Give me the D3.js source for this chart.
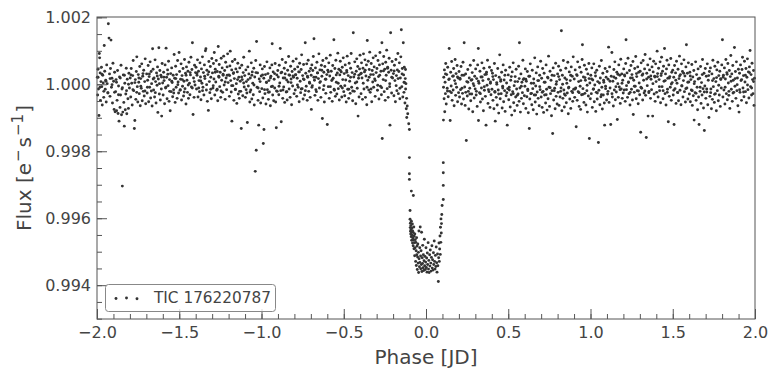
<!DOCTYPE html>
<html>
<head>
<meta charset="utf-8">
<script src="https://cdn.jsdelivr.net/npm/d3@7"></script>
<style>
  body { margin: 0; background: #fff; }
  text { font-family: 'DejaVu Sans', sans-serif; }
</style>
</head>
<body>
<div id="chart"></div>
<script>
// folded light curve, [phase (days), normalised flux]
const preTransit = [
  [-1.998,1.00021],[-1.996,0.99968],[-1.994,1.00045],[-1.991,0.99986],[-1.988,0.99907],[-1.986,1.00092],[-1.984,1.00079],[-1.981,1.00034],[-1.979,0.99952],[-1.976,1.00008],[-1.973,1.00051],[-1.971,0.99993],[-1.968,0.99938],[-1.965,1.00027],[-1.962,1.00004],[-1.959,0.99961],[-1.956,1.00116],[-1.953,1.00039],[-1.950,0.99985],[-1.947,1.00012],[-1.944,0.99947],[-1.941,1.00058],[-1.938,1.00002],[-1.934,0.99975],[-1.931,1.00181],[-1.927,1.00138],[-1.924,1.00031],[-1.921,0.99964],[-1.918,1.00047],[-1.915,1.00132],[-1.912,0.99991],[-1.909,1.00018],[-1.906,0.99944],[-1.903,1.00063],
  [-1.899,1.00009],[-1.896,0.99925],[-1.893,1.00036],[-1.890,0.99918],[-1.887,0.99978],[-1.884,1.00014],[-1.881,0.99921],[-1.878,0.99952],[-1.875,1.00041],[-1.872,0.99913],[-1.869,0.99995],[-1.866,0.99890],[-1.863,1.00022],[-1.860,0.99931],[-1.857,0.99968],[-1.854,1.00057],[-1.851,0.99909],[-1.848,0.99986],[-1.846,0.99696],[-1.843,0.99917],[-1.840,1.00028],[-1.837,0.99946],[-1.834,0.99875],[-1.831,1.00003],[-1.828,0.99924],[-1.825,0.99971],[-1.822,1.00048],[-1.819,0.99912],[-1.816,1.00015],[-1.812,0.99957],[-1.809,0.99928],[-1.806,1.00033],[-1.803,0.99989],
  [-1.798,1.00019],[-1.795,0.99962],[-1.792,1.00047],[-1.789,1.00003],[-1.786,0.99938],[-1.783,1.00026],[-1.780,1.00071],[-1.777,0.99981],[-1.773,0.99868],[-1.770,0.99892],[-1.767,1.00014],[-1.764,0.99955],[-1.761,1.00038],[-1.758,1.00082],[-1.755,0.99993],[-1.752,0.99947],[-1.749,1.00029],[-1.746,1.00006],[-1.743,0.99972],[-1.740,1.00053],[-1.737,0.99936],[-1.734,1.00017],[-1.731,0.99988],[-1.728,1.00061],[-1.725,0.99951],[-1.722,1.00024],[-1.719,0.99979],[-1.716,1.00042],[-1.713,0.99965],[-1.710,1.00008],[-1.707,1.00076],[-1.704,0.99942],
  [-1.698,1.00031],[-1.695,0.99974],[-1.692,1.00012],[-1.689,1.00056],[-1.686,0.99948],[-1.683,1.00023],[-1.680,0.99991],[-1.677,1.00067],[-1.674,0.99959],[-1.671,1.00038],[-1.668,1.00002],[-1.665,0.99935],[-1.662,1.00106],[-1.659,1.00045],[-1.656,0.99983],[-1.653,1.00019],[-1.650,0.99962],[-1.647,1.00073],[-1.644,1.00008],[-1.641,0.99944],[-1.638,1.00034],[-1.635,0.99997],[-1.632,1.00052],[-1.630,0.99916],[-1.627,1.00016],[-1.624,1.00109],[-1.621,0.99971],[-1.618,1.00041],[-1.615,0.99953],[-1.612,1.00027],[-1.609,0.99986],[-1.607,0.99905],[-1.604,1.00062],[-1.601,1.00004],
  [-1.598,0.99968],[-1.595,1.00036],[-1.592,1.00011],[-1.589,0.99942],[-1.586,1.00058],[-1.583,0.99989],[-1.580,1.00108],[-1.577,1.00021],[-1.574,0.99957],[-1.571,1.00043],[-1.568,0.99996],[-1.565,1.00069],[-1.562,0.99949],[-1.559,1.00014],[-1.555,0.99921],[-1.552,1.00032],[-1.549,0.99978],[-1.546,1.00049],[-1.543,1.00005],[-1.540,0.99963],[-1.537,1.00027],[-1.534,0.99984],[-1.531,1.00089],[-1.528,1.00018],[-1.525,0.99946],[-1.522,1.00054],[-1.519,0.99991],[-1.516,1.00029],[-1.513,0.99958],[-1.510,1.00071],[-1.507,1.00007],[-1.504,0.99974],[-1.501,1.00095],
  [-1.498,1.00038],[-1.495,0.99982],[-1.492,1.00015],[-1.489,1.00061],[-1.486,0.99953],[-1.483,1.00026],[-1.480,0.99994],[-1.477,1.00047],[-1.474,0.99965],[-1.471,1.00009],[-1.468,1.00074],[-1.465,0.99987],[-1.462,1.00033],[-1.459,0.99941],[-1.456,1.00052],[-1.453,1.00012],[-1.450,0.99976],[-1.447,1.00039],[-1.444,0.99958],[-1.441,1.00066],[-1.438,1.00003],[-1.435,0.99969],[-1.432,1.00028],[-1.429,1.00081],[-1.426,0.99992],[-1.423,1.00044],[-1.420,1.00124],[-1.416,0.99910],[-1.413,1.00019],[-1.410,0.99961],[-1.407,1.00057],[-1.404,0.99998],[-1.401,1.00035],
  [-1.398,1.00051],[-1.395,0.99986],[-1.392,1.00027],[-1.389,1.00073],[-1.386,0.99962],[-1.383,1.00039],[-1.380,1.00011],[-1.377,0.99978],[-1.374,1.00064],[-1.371,1.00022],[-1.368,0.99954],[-1.365,1.00046],[-1.362,1.00003],[-1.359,1.00082],[-1.356,0.99991],[-1.353,1.00035],[-1.350,0.99968],[-1.347,1.00058],[-1.344,1.00017],[-1.341,1.00100],[-1.338,1.00106],[-1.335,0.99983],[-1.332,1.00042],[-1.329,0.99949],[-1.326,1.00029],[-1.323,0.99922],[-1.320,1.00068],[-1.317,1.00008],[-1.314,0.99975],[-1.311,1.00053],[-1.308,1.00021],[-1.305,0.99957],[-1.302,1.00077],
  [-1.298,1.00034],[-1.295,0.99989],[-1.292,1.00062],[-1.289,1.00016],[-1.287,1.00095],[-1.284,0.99968],[-1.281,1.00045],[-1.278,1.00007],[-1.275,1.00071],[-1.272,0.99982],[-1.269,1.00038],[-1.266,0.99951],[-1.263,1.00113],[-1.260,1.00024],[-1.257,1.00059],[-1.254,0.99993],[-1.251,1.00036],[-1.248,0.99961],[-1.245,1.00078],[-1.242,1.00012],[-1.239,1.00049],[-1.236,0.99976],[-1.233,1.00027],[-1.230,1.00084],[-1.227,0.99998],[-1.224,1.00041],[-1.221,0.99955],[-1.218,1.00066],[-1.215,1.00019],[-1.212,0.99984],[-1.209,1.00052],[-1.206,1.00091],[-1.203,1.00005],
  [-1.198,1.00028],[-1.195,0.99964],[-1.192,1.00055],[-1.190,1.00099],[-1.187,1.00011],[-1.184,0.99977],[-1.181,1.00043],[-1.180,0.99890],[-1.177,1.00068],[-1.174,0.99996],[-1.171,1.00032],[-1.168,0.99952],[-1.165,1.00017],[-1.162,1.00074],[-1.159,0.99985],[-1.156,1.00046],[-1.153,1.00002],[-1.150,0.99943],[-1.147,1.00037],[-1.144,1.00063],[-1.141,0.99971],[-1.138,1.00021],[-1.135,0.99958],[-1.132,1.00049],[-1.129,1.00009],[-1.126,0.99979],[-1.123,0.99868],[-1.120,1.00057],[-1.117,1.00014],[-1.114,0.99966],[-1.111,1.00035],[-1.108,1.00081],[-1.105,0.99992],[-1.102,1.00026],
  [-1.098,0.99961],[-1.095,1.00043],[-1.092,1.00008],[-1.089,0.99974],[-1.086,0.99886],[-1.083,1.00052],[-1.080,0.99995],[-1.077,1.00031],[-1.074,1.00099],[-1.071,0.99947],[-1.068,1.00019],[-1.065,0.99983],[-1.062,1.00064],[-1.059,0.99956],[-1.056,1.00037],[-1.053,1.00003],[-1.050,0.99969],[-1.047,1.00048],[-1.044,0.99938],[-1.041,1.00022],[-1.038,0.99740],[-1.035,1.00071],[-1.032,0.99803],[-1.030,1.00128],[-1.027,0.99991],[-1.024,1.00034],[-1.021,0.99952],[-1.017,0.99878],[-1.014,1.00016],[-1.011,0.99978],[-1.008,1.00058],[-1.005,0.99944],[-1.002,1.00025],
  [-0.998,0.99987],[-0.995,1.00046],[-0.992,0.99959],[-0.989,0.99823],[-0.986,1.00018],[-0.985,0.99865],[-0.982,1.00053],[-0.979,0.99972],[-0.976,1.00029],[-0.973,0.99941],[-0.970,1.00006],[-0.967,1.00067],[-0.964,0.99984],[-0.961,1.00032],[-0.958,0.99955],[-0.955,1.00011],[-0.952,0.99977],[-0.949,1.00049],[-0.946,0.99936],[-0.943,1.00024],[-0.940,0.99993],[-0.937,1.00058],[-0.935,1.00121],[-0.932,0.99968],[-0.929,1.00037],[-0.926,0.99951],[-0.923,1.00015],[-0.920,0.99989],[-0.917,1.00062],[-0.914,0.99947],[-0.910,0.99870],[-0.907,1.00028],[-0.904,0.99979],[-0.901,1.00041],
  [-0.898,1.00022],[-0.895,0.99969],[-0.892,1.00057],[-0.889,1.00004],[-0.886,1.00107],[-0.883,0.99981],[-0.880,0.99888],[-0.877,1.00036],[-0.874,1.00074],[-0.871,0.99958],[-0.868,1.00019],[-0.865,0.99992],[-0.862,1.00048],[-0.859,0.99946],[-0.856,1.00031],[-0.853,1.00065],[-0.850,0.99977],[-0.847,1.00013],[-0.844,0.99953],[-0.841,1.00042],[-0.838,1.00007],[-0.835,1.00083],[-0.832,0.99986],[-0.829,1.00027],[-0.826,0.99961],[-0.823,1.00054],[-0.820,1.00016],[-0.817,0.99939],[-0.814,1.00038],[-0.811,0.99995],[-0.808,1.00069],[-0.805,1.00021],[-0.802,0.99972],
  [-0.798,1.00045],[-0.795,0.99983],[-0.792,1.00029],[-0.789,1.00076],[-0.786,0.99964],[-0.783,1.00018],[-0.780,1.00052],[-0.777,0.99991],[-0.774,1.00037],[-0.771,0.99948],[-0.768,1.00063],[-0.765,1.00009],[-0.762,0.99975],[-0.759,1.00044],[-0.756,1.00088],[-0.753,0.99987],[-0.750,1.00026],[-0.747,0.99956],[-0.744,1.00059],[-0.741,1.00014],[-0.738,0.99968],[-0.734,1.00124],[-0.731,1.00033],[-0.728,0.99994],[-0.725,1.00061],[-0.722,0.99952],[-0.719,1.00021],[-0.716,1.00072],[-0.713,0.99979],[-0.710,1.00039],[-0.707,1.00003],[-0.704,0.99961],[-0.701,1.00047],
  [-0.698,1.00027],[-0.697,0.99925],[-0.694,1.00058],[-0.691,0.99996],[-0.688,1.00041],[-0.685,1.00083],[-0.681,1.00136],[-0.678,1.00012],[-0.675,0.99967],[-0.672,1.00049],[-0.669,1.00021],[-0.666,0.99978],[-0.663,1.00066],[-0.660,1.00034],[-0.657,0.99952],[-0.654,1.00017],[-0.651,1.00091],[-0.648,0.99989],[-0.645,1.00043],[-0.642,1.00008],[-0.639,0.99961],[-0.636,1.00057],[-0.633,1.00024],[-0.630,0.99898],[-0.627,1.00071],[-0.624,0.99984],[-0.621,1.00036],[-0.618,0.99947],[-0.615,1.00053],[-0.612,1.00015],[-0.609,0.99973],[-0.606,1.00078],[-0.603,1.00029],[-0.600,0.99880],
  [-0.597,1.00042],[-0.594,0.99993],[-0.591,1.00064],[-0.588,0.99958],[-0.585,1.00025],[-0.582,1.00087],[-0.579,0.99976],[-0.576,1.00039],[-0.573,1.00011],[-0.570,0.99949],[-0.567,1.00056],[-0.564,1.00018],[-0.560,1.00133],[-0.557,0.99982],[-0.554,1.00047],[-0.551,0.99964],[-0.548,1.00072],[-0.545,1.00006],[-0.542,0.99971],[-0.539,1.00034],[-0.536,1.00093],[-0.533,0.99987],[-0.530,1.00045],[-0.527,0.99953],[-0.524,1.00028],[-0.521,1.00069],[-0.518,0.99994],[-0.515,1.00037],[-0.512,0.99962],[-0.509,1.00051],[-0.506,1.00014],[-0.503,1.00079],[-0.500,0.99978],
  [-0.497,1.00032],[-0.494,0.99966],[-0.491,1.00058],[-0.488,1.00013],[-0.485,0.99947],[-0.482,1.00041],[-0.479,1.00084],[-0.476,0.99985],[-0.473,1.00026],[-0.470,0.99958],[-0.467,1.00063],[-0.464,1.00009],[-0.461,0.99973],[-0.458,1.00048],[-0.455,1.00092],[-0.452,0.99991],[-0.449,1.00035],[-0.446,0.99951],[-0.442,1.00154],[-0.439,1.00022],[-0.436,0.99979],[-0.433,1.00067],[-0.430,1.00004],[-0.427,0.99942],[-0.424,1.00039],[-0.421,1.00076],[-0.418,0.99988],[-0.415,1.00053],[-0.413,0.99905],[-0.410,1.00018],[-0.407,0.99962],[-0.404,1.00046],[-0.401,1.00087],
  [-0.398,1.00031],[-0.395,0.99972],[-0.392,1.00064],[-0.389,1.00019],[-0.386,0.99955],[-0.383,1.00048],[-0.380,1.00091],[-0.377,0.99986],[-0.374,1.00037],[-0.371,1.00073],[-0.368,0.99961],[-0.365,1.00025],[-0.362,1.00058],[-0.360,0.99939],[-0.357,1.00131],[-0.354,1.00012],[-0.351,1.00069],[-0.348,0.99983],[-0.345,1.00044],[-0.342,1.00096],[-0.339,0.99976],[-0.336,1.00029],[-0.333,1.00062],[-0.330,0.99948],[-0.327,1.00041],[-0.324,1.00007],[-0.321,1.00079],[-0.318,0.99991],[-0.315,1.00052],[-0.312,1.00016],[-0.309,0.99964],[-0.306,1.00085],[-0.303,1.00035],
  [-0.298,1.00047],[-0.295,0.99982],[-0.292,1.00071],[-0.289,1.00023],[-0.286,0.99956],[-0.283,1.00058],[-0.280,1.00095],[-0.277,0.99994],[-0.274,1.00039],[-0.271,0.99969],[-0.268,1.00124],[-0.266,0.99838],[-0.263,1.00061],[-0.260,1.00014],[-0.257,1.00083],[-0.254,0.99978],[-0.251,1.00045],[-0.248,0.99952],[-0.245,1.00066],[-0.242,1.00027],[-0.239,1.00102],[-0.236,0.99987],[-0.233,1.00051],[-0.230,0.99961],[-0.227,1.00036],[-0.224,1.00078],[-0.221,0.99993],[-0.219,0.99878],[-0.215,1.00154],[-0.212,1.00042],[-0.209,0.99974],[-0.206,1.00068],[-0.203,1.00019],
  [-0.198,1.00032],[-0.195,0.99966],[-0.192,1.00057],[-0.189,1.00011],[-0.186,0.99948],[-0.183,1.00074],[-0.180,1.00026],[-0.177,0.99981],[-0.174,1.00043],[-0.171,1.00092],[-0.168,0.99972],[-0.165,1.00038],[-0.162,1.00064],[-0.159,0.99957],[-0.156,1.00019],[-0.153,1.00082],[-0.150,1.00163],[-0.147,0.99993],[-0.144,1.00047],[-0.141,0.99962],[-0.138,1.00124],[-0.136,1.00028],[-0.134,0.99976],[-0.132,1.00051],[-0.130,1.00005],[-0.128,0.99944],[-0.126,1.00017],[-0.124,0.99986],[-0.122,1.00002],[-0.120,0.99927],[-0.118,0.99958],[-0.117,0.99901],[-0.114,0.99935],[-0.111,0.99912],
  // core of the band
  [-1.9935,1.00021],[-1.9815,0.99991],[-1.9695,1.00030],[-1.9585,0.99979],[-1.9455,1.00009],[-1.9335,0.99974],[-1.9205,1.00017],[-1.9085,0.99999],
  [-1.8935,0.99976],[-1.8815,1.00006],[-1.8695,0.99969],[-1.8585,1.00019],[-1.8455,0.99990],[-1.8335,1.00027],[-1.8205,0.99981],[-1.8085,1.00000],
  [-1.7935,1.00028],[-1.7815,0.99984],[-1.7695,1.00005],[-1.7585,0.99976],[-1.7455,1.00019],[-1.7335,0.99994],[-1.7205,1.00032],[-1.7085,0.99980],
  [-1.6935,0.99991],[-1.6815,1.00031],[-1.6695,0.99980],[-1.6585,1.00016],[-1.6455,0.99975],[-1.6335,1.00025],[-1.6205,1.00002],[-1.6085,1.00022],
  [-1.5935,1.00021],[-1.5815,0.99991],[-1.5695,1.00030],[-1.5585,0.99979],[-1.5455,1.00009],[-1.5335,0.99974],[-1.5205,1.00017],[-1.5085,0.99999],
  [-1.4935,0.99984],[-1.4815,1.00014],[-1.4695,0.99977],[-1.4585,1.00027],[-1.4455,0.99998],[-1.4335,1.00035],[-1.4205,0.99989],[-1.4085,1.00008],
  [-1.3935,1.00033],[-1.3815,0.99989],[-1.3695,1.00010],[-1.3585,0.99981],[-1.3455,1.00024],[-1.3335,0.99999],[-1.3205,1.00037],[-1.3085,0.99985],
  [-1.2935,0.99996],[-1.2815,1.00036],[-1.2695,0.99985],[-1.2585,1.00021],[-1.2455,0.99980],[-1.2335,1.00030],[-1.2205,1.00007],[-1.2085,1.00027],
  [-1.1935,1.00026],[-1.1815,0.99996],[-1.1695,1.00035],[-1.1585,0.99984],[-1.1455,1.00014],[-1.1335,0.99979],[-1.1205,1.00022],[-1.1085,1.00004],
  [-1.0935,0.99984],[-1.0815,1.00014],[-1.0695,0.99977],[-1.0585,1.00027],[-1.0455,0.99998],[-1.0335,1.00035],[-1.0205,0.99989],[-1.0085,1.00008],
  [-0.9935,1.00028],[-0.9815,0.99984],[-0.9695,1.00005],[-0.9585,0.99976],[-0.9455,1.00019],[-0.9335,0.99994],[-0.9205,1.00032],[-0.9085,0.99980],
  [-0.8935,0.99994],[-0.8815,1.00034],[-0.8695,0.99983],[-0.8585,1.00019],[-0.8455,0.99978],[-0.8335,1.00028],[-0.8205,1.00005],[-0.8085,1.00025],
  [-0.7935,1.00028],[-0.7815,0.99998],[-0.7695,1.00037],[-0.7585,0.99986],[-0.7455,1.00016],[-0.7335,0.99981],[-0.7205,1.00024],[-0.7085,1.00006],
  [-0.6935,0.99991],[-0.6815,1.00021],[-0.6695,0.99984],[-0.6585,1.00034],[-0.6455,1.00005],[-0.6335,1.00042],[-0.6205,0.99996],[-0.6085,1.00015],
  [-0.5935,1.00037],[-0.5815,0.99993],[-0.5695,1.00014],[-0.5585,0.99985],[-0.5455,1.00028],[-0.5335,1.00003],[-0.5205,1.00041],[-0.5085,0.99989],
  [-0.4935,0.99996],[-0.4815,1.00036],[-0.4695,0.99985],[-0.4585,1.00021],[-0.4455,0.99980],[-0.4335,1.00030],[-0.4205,1.00007],[-0.4085,1.00027],
  [-0.3935,1.00033],[-0.3815,1.00003],[-0.3695,1.00042],[-0.3585,0.99991],[-0.3455,1.00021],[-0.3335,0.99986],[-0.3205,1.00029],[-0.3085,1.00011],
  [-0.2935,0.99997],[-0.2815,1.00027],[-0.2695,0.99990],[-0.2585,1.00040],[-0.2455,1.00011],[-0.2335,1.00048],[-0.2205,1.00002],[-0.2085,1.00021],
  [-0.1935,1.00040],[-0.1815,0.99996],[-0.1695,1.00017],[-0.1585,0.99988],[-0.1455,1.00031],[-0.1335,1.00006],[-0.1245,1.00044]
]

const inTransit = [
  [-0.105,0.99882],[-0.101,0.99865],[-0.101,0.99781],[-0.101,0.99733],[-0.101,0.99716],[-0.097,0.99623],[-0.089,0.99681],[-0.077,0.99668],
  [-0.097,0.99597],[-0.096,0.99572],[-0.095,0.99585],[-0.094,0.99561],[-0.093,0.99553],[-0.092,0.99578],[-0.091,0.99566],[-0.090,0.99545],[-0.089,0.99591],[-0.088,0.99558],[-0.087,0.99534],[-0.086,0.99571],[-0.084,0.99549],[-0.083,0.99583],[-0.082,0.99526],[-0.081,0.99562],[-0.080,0.99541],[-0.078,0.99518],[-0.077,0.99557],[-0.076,0.99535],[-0.074,0.99574],[-0.073,0.99509],[-0.072,0.99546],[-0.070,0.99527],[-0.069,0.99488],[-0.068,0.99553],[-0.066,0.99512],[-0.065,0.99536],[-0.063,0.99471],[-0.062,0.99528],[-0.060,0.99503],[-0.059,0.99459],[-0.057,0.99542],[-0.056,0.99491],[-0.054,0.99517],[-0.053,0.99447],[-0.051,0.99484],[-0.050,0.99523],[-0.048,0.99466],[-0.046,0.99498],[-0.045,0.99438],[-0.043,0.99562],[-0.042,0.99479],[-0.040,0.99455],[-0.038,0.99512],[-0.037,0.99468],[-0.035,0.99574],[-0.033,0.99487],[-0.032,0.99449],[-0.030,0.99503],[-0.028,0.99462],[-0.027,0.99558],[-0.025,0.99441],[-0.023,0.99482],[-0.021,0.99465],[-0.020,0.99519],[-0.018,0.99452],[-0.016,0.99491],[-0.014,0.99444],[-0.012,0.99473],[-0.010,0.99537],[-0.008,0.99458],[-0.006,0.99486],[-0.004,0.99447],[-0.002,0.99469],
  [0.000,0.99512],[0.002,0.99453],[0.004,0.99481],[0.006,0.99439],[0.008,0.99496],[0.010,0.99462],[0.013,0.99527],[0.015,0.99448],[0.017,0.99474],[0.019,0.99438],[0.022,0.99491],[0.024,0.99457],[0.026,0.99505],[0.029,0.99466],[0.031,0.99442],[0.033,0.99483],[0.036,0.99518],[0.038,0.99451],[0.040,0.99476],[0.043,0.99445],[0.045,0.99497],[0.047,0.99462],[0.050,0.99532],[0.052,0.99471],[0.055,0.99448],[0.057,0.99489],[0.060,0.99456],[0.062,0.99514],[0.065,0.99467],[0.067,0.99439],[0.070,0.99493],[0.072,0.99458],[0.075,0.99411],[0.077,0.99482],[0.079,0.99526],[0.081,0.99471],[0.083,0.99508],[0.085,0.99547],[0.087,0.99492],[0.088,0.99573],[0.090,0.99528],[0.091,0.99598],[0.093,0.99556],[0.094,0.99584],[0.096,0.99611],[0.098,0.99638],[0.105,0.99656],[0.105,0.99698],[0.105,0.99736],[0.105,0.99766]
]

const postTransit = [
  [0.106,0.99893],[0.108,1.00021],[0.110,0.99957],[0.112,1.00043],[0.114,0.99918],[0.116,1.00006],[0.118,0.99972],[0.120,1.00062],[0.123,0.99941],[0.126,1.00029],[0.129,0.99988],[0.132,1.00051],[0.135,0.99963],[0.138,1.00014],[0.141,1.00107],[0.144,0.99979],[0.147,0.99892],[0.150,1.00036],[0.153,0.99995],[0.156,1.00068],[0.159,0.99952],[0.162,1.00024],[0.165,0.99983],[0.168,1.00047],[0.171,0.99936],[0.174,1.00011],[0.177,1.00074],[0.180,0.99967],[0.183,1.00032],[0.186,0.99991],[0.189,1.00056],[0.192,0.99948],[0.195,1.00019],[0.198,0.99975],
  [0.201,1.00038],[0.204,0.99962],[0.207,1.00015],[0.210,0.99984],[0.213,1.00053],[0.216,0.99941],[0.219,1.00027],[0.222,0.99973],[0.225,1.00066],[0.228,0.99956],[0.232,1.00124],[0.235,0.99992],[0.238,0.99937],[0.241,1.00031],[0.245,0.99832],[0.248,1.00008],[0.251,0.99965],[0.254,1.00044],[0.257,0.99979],[0.260,0.99926],[0.263,1.00019],[0.266,0.99988],[0.269,1.00057],[0.272,0.99951],[0.275,1.00012],[0.278,0.99971],[0.281,1.00035],[0.284,0.99918],[0.287,1.00002],[0.290,1.00071],[0.293,0.99959],[0.296,1.00024],[0.299,0.99986],
  [0.302,1.00046],[0.305,0.99968],[0.308,1.00017],[0.311,0.99934],[0.314,1.00058],[0.318,1.00107],[0.319,0.99892],[0.322,1.00003],[0.325,0.99975],[0.328,1.00039],[0.331,0.99947],[0.334,1.00022],[0.337,0.99989],[0.340,1.00064],[0.343,0.99956],[0.346,1.00011],[0.349,0.99921],[0.352,1.00048],[0.355,0.99982],[0.358,1.00029],[0.361,0.99964],[0.365,0.99878],[0.368,1.00036],[0.371,0.99997],[0.374,1.00072],[0.377,0.99943],[0.380,1.00015],[0.383,0.99978],[0.386,1.00051],[0.389,0.99931],[0.392,1.00007],[0.395,0.99969],[0.398,1.00041],
  [0.401,0.99985],[0.404,1.00033],[0.407,0.99952],[0.410,1.00014],[0.413,0.99927],[0.416,1.00062],[0.419,0.99976],[0.421,0.99890],[0.424,1.00026],[0.427,0.99961],[0.430,1.00005],[0.433,0.99938],[0.436,1.00047],[0.439,0.99983],[0.442,0.99914],[0.445,1.00021],[0.448,1.00088],[0.451,0.99957],[0.454,1.00009],[0.457,0.99972],[0.460,1.00036],[0.463,0.99929],[0.466,0.99994],[0.469,1.00058],[0.472,0.99948],[0.475,1.00013],[0.478,0.99981],[0.481,0.99919],[0.484,1.00042],[0.487,0.99966],[0.490,1.00004],[0.494,0.99878],[0.497,0.99987],
  [0.500,1.00028],[0.503,0.99954],[0.506,0.99991],[0.509,1.00051],[0.512,0.99932],[0.515,1.00012],[0.518,0.99969],[0.521,0.99908],[0.524,1.00037],[0.527,0.99978],[0.530,1.00064],[0.533,0.99945],[0.536,0.99996],[0.539,0.99921],[0.542,1.00023],[0.545,0.99962],[0.548,1.00045],[0.551,0.99986],[0.554,0.99937],[0.557,1.00008],[0.560,0.99971],[0.563,1.00054],[0.566,0.99949],[0.568,1.00124],[0.571,0.99989],[0.574,0.99917],[0.577,1.00031],[0.580,0.99958],[0.583,1.00006],[0.586,0.99975],[0.589,1.00072],[0.592,0.99942],[0.595,1.00017],[0.598,0.99966],
  [0.601,0.99994],[0.604,1.00046],[0.607,0.99928],[0.610,1.00009],[0.613,0.99963],[0.616,1.00038],[0.619,0.99981],[0.622,0.99915],[0.625,1.00024],[0.628,0.99868],[0.631,0.99956],[0.634,1.00061],[0.637,0.99972],[0.640,1.00003],[0.643,0.99939],[0.646,1.00042],[0.649,0.99987],[0.652,0.99924],[0.655,1.00016],[0.658,0.99968],[0.661,1.00079],[0.664,0.99947],[0.667,0.99995],[0.670,1.00034],[0.673,0.99911],[0.676,0.99977],[0.679,1.00052],[0.682,0.99958],[0.685,1.00011],[0.688,0.99936],[0.691,1.00027],[0.694,0.99984],[0.697,1.00069],
  [0.700,0.99962],[0.703,1.00018],[0.706,0.99931],[0.709,1.00047],[0.712,0.99979],[0.715,0.99916],[0.718,1.00033],[0.721,0.99968],[0.724,1.00006],[0.727,0.99944],[0.730,1.00058],[0.733,0.99985],[0.736,0.99923],[0.739,1.00021],[0.742,0.99957],[0.745,1.00084],[0.748,0.99991],[0.751,0.99934],[0.754,1.00039],[0.757,0.99972],[0.760,1.00012],[0.763,0.99906],[0.766,0.99981],[0.770,0.99853],[0.773,1.00049],[0.776,0.99953],[0.779,1.00026],[0.782,0.99988],[0.785,0.99927],[0.788,1.00063],[0.791,0.99964],[0.794,1.00008],[0.797,0.99941],
  [0.800,1.00031],[0.803,0.99976],[0.806,1.00054],[0.809,0.99937],[0.812,1.00014],[0.815,0.99962],[0.818,1.00042],[0.821,0.99989],[0.823,1.00160],[0.826,0.99921],[0.829,1.00027],[0.832,0.99958],[0.835,1.00071],[0.838,0.99983],[0.841,0.99932],[0.844,1.00019],[0.847,0.99967],[0.850,1.00048],[0.853,0.99945],[0.856,1.00003],[0.859,0.99974],[0.862,1.00066],[0.865,0.99912],[0.868,0.99991],[0.871,1.00037],[0.874,0.99956],[0.877,1.00011],[0.880,0.99928],[0.883,1.00052],[0.886,0.99979],[0.889,1.00024],[0.892,0.99949],[0.895,1.00082],[0.898,0.99985],
  [0.901,1.00016],[0.904,0.99961],[0.907,1.00043],[0.910,0.99989],[0.913,0.99873],[0.916,1.00029],[0.919,0.99952],[0.922,1.00067],[0.925,0.99978],[0.928,1.00008],[0.931,0.99934],[0.934,1.00051],[0.937,0.99994],[0.940,0.99925],[0.943,1.00036],[0.946,0.99969],[0.949,1.00074],[0.951,1.00118],[0.954,0.99987],[0.957,1.00022],[0.960,0.99946],[0.963,1.00057],[0.966,0.99973],[0.969,1.00012],[0.972,0.99938],[0.975,1.00045],[0.978,0.99981],[0.981,0.99917],[0.984,1.00031],[0.987,0.99965],[0.990,1.00062],[0.993,0.99838],[0.996,1.00004],[0.999,0.99957],
  [1.002,1.00027],[1.005,0.99972],[1.008,1.00049],[1.011,0.99931],[1.014,1.00013],[1.017,0.99985],[1.020,1.00061],[1.023,0.99948],[1.026,0.99998],[1.029,1.00035],[1.032,0.99919],[1.035,0.99976],[1.038,1.00042],[1.041,0.99956],[1.044,1.00008],[1.048,0.99826],[1.051,0.99982],[1.054,1.00054],[1.057,0.99939],[1.060,1.00019],[1.063,0.99963],[1.066,1.00071],[1.069,0.99991],[1.072,0.99926],[1.075,1.00033],[1.078,0.99968],[1.081,1.00006],[1.084,0.99944],[1.086,0.99878],[1.089,1.00047],[1.092,0.99987],[1.095,1.00021],[1.098,0.99953],
  [1.101,1.00038],[1.104,0.99971],[1.107,1.00015],[1.110,1.00111],[1.113,0.99946],[1.116,1.00052],[1.119,0.99989],[1.123,0.99880],[1.126,1.00024],[1.130,1.00095],[1.133,0.99962],[1.136,1.00009],[1.139,0.99935],[1.142,1.00044],[1.145,0.99983],[1.148,1.00067],[1.151,0.99954],[1.154,1.00018],[1.157,0.99977],[1.160,1.00036],[1.163,0.99895],[1.166,1.00002],[1.169,0.99961],[1.172,1.00058],[1.175,0.99992],[1.178,1.00027],[1.181,0.99943],[1.184,1.00075],[1.187,0.99986],[1.190,1.00031],[1.193,0.99958],[1.196,1.00012],[1.199,0.99974],
  [1.202,1.00046],[1.205,0.99983],[1.208,1.00025],[1.211,0.99949],[1.214,1.00062],[1.216,1.00133],[1.219,0.99996],[1.222,1.00034],[1.225,0.99961],[1.228,1.00078],[1.231,1.00007],[1.234,0.99972],[1.237,1.00041],[1.240,0.99938],[1.243,1.00019],[1.246,1.00056],[1.249,0.99985],[1.252,1.00029],[1.255,0.99953],[1.258,1.00068],[1.260,0.99910],[1.263,1.00012],[1.266,0.99976],[1.269,1.00047],[1.272,0.99994],[1.275,1.00083],[1.278,0.99957],[1.281,1.00023],[1.284,0.99981],[1.287,1.00052],[1.290,0.99942],[1.293,1.00036],[1.296,1.00004],[1.299,0.99969],
  [1.302,1.00039],[1.305,0.99857],[1.308,1.00064],[1.311,0.99988],[1.314,1.00027],[1.317,0.99953],[1.320,1.00071],[1.323,1.00012],[1.326,0.99974],[1.329,1.00046],[1.332,1.00089],[1.335,0.99967],[1.339,0.99841],[1.342,1.00033],[1.345,0.99996],[1.348,1.00058],[1.350,0.99905],[1.353,1.00021],[1.356,0.99979],[1.359,1.00043],[1.362,1.00076],[1.365,0.99958],[1.368,1.00015],[1.371,0.99984],[1.374,1.00052],[1.378,0.99905],[1.381,1.00037],[1.384,1.00069],[1.387,0.99971],[1.390,1.00024],[1.393,0.99949],[1.396,1.00061],[1.399,1.00008],
  [1.402,0.99976],[1.405,1.00099],[1.408,1.00032],[1.411,0.99962],[1.414,1.00048],[1.417,1.00014],[1.420,0.99981],[1.423,1.00067],[1.426,0.99945],[1.429,1.00026],[1.432,1.00081],[1.435,0.99993],[1.438,1.00039],[1.441,0.99957],[1.444,1.00054],[1.447,1.00009],[1.450,1.00107],[1.453,0.99972],[1.456,1.00031],[1.459,0.99938],[1.462,1.00046],[1.465,1.00072],[1.468,0.99985],[1.470,1.00018],[1.473,0.99888],[1.476,1.00058],[1.479,0.99964],[1.482,1.00023],[1.485,0.99991],[1.488,1.00077],[1.491,0.99952],[1.494,1.00036],[1.497,1.00005],
  [1.500,1.00042],[1.503,0.99968],[1.506,1.00021],[1.508,0.99880],[1.511,1.00056],[1.514,0.99987],[1.517,1.00034],[1.520,0.99943],[1.523,1.00069],[1.526,1.00003],[1.529,0.99976],[1.532,1.00045],[1.535,0.99951],[1.538,1.00017],[1.541,1.00084],[1.544,0.99982],[1.547,1.00029],[1.550,0.99939],[1.553,1.00061],[1.556,0.99995],[1.559,1.00038],[1.562,0.99962],[1.565,1.00011],[1.568,1.00073],[1.571,0.99978],[1.574,1.00025],[1.577,0.99947],[1.580,1.00052],[1.583,1.00118],[1.586,0.99989],[1.589,1.00033],[1.592,0.99956],[1.595,1.00064],[1.598,1.00007],
  [1.601,0.99971],[1.604,1.00036],[1.607,0.99948],[1.610,1.00014],[1.613,0.99983],[1.616,1.00059],[1.619,0.99937],[1.622,1.00022],[1.625,0.99966],[1.628,1.00041],[1.630,0.99893],[1.633,1.00008],[1.636,0.99975],[1.639,1.00067],[1.642,0.99952],[1.645,1.00029],[1.648,0.99991],[1.651,0.99924],[1.654,1.00046],[1.657,0.99962],[1.660,0.99880],[1.663,1.00018],[1.666,0.99979],[1.669,1.00053],[1.672,0.99943],[1.675,1.00005],[1.678,0.99968],[1.681,1.00074],[1.684,0.99987],[1.687,0.99929],[1.690,1.00033],[1.692,0.99862],[1.695,0.99995],[1.698,1.00047],
  [1.701,0.99958],[1.704,1.00024],[1.707,0.99977],[1.710,1.00061],[1.713,0.99939],[1.716,1.00012],[1.720,0.99901],[1.723,1.00038],[1.726,0.99964],[1.729,1.00049],[1.732,0.99986],[1.735,0.99927],[1.738,1.00031],[1.741,0.99955],[1.744,1.00072],[1.747,0.99993],[1.750,1.00017],[1.753,0.99946],[1.756,1.00054],[1.759,0.99972],[1.762,1.00008],[1.765,0.99921],[1.768,1.00043],[1.771,0.99981],[1.774,1.00066],[1.777,0.99951],[1.780,1.00026],[1.783,0.99968],[1.786,1.00039],[1.789,0.99934],[1.792,1.00014],[1.795,0.99989],[1.798,1.00058],
  [1.802,1.00133],[1.805,0.99962],[1.808,1.00027],[1.811,0.99983],[1.814,1.00049],[1.817,0.99941],[1.820,1.00016],[1.823,1.00074],[1.826,0.99972],[1.829,1.00035],[1.832,0.99954],[1.835,1.00062],[1.838,1.00004],[1.841,0.99967],[1.844,1.00041],[1.847,0.99928],[1.850,1.00023],[1.853,1.00086],[1.856,0.99985],[1.859,1.00031],[1.862,0.99949],[1.865,1.00056],[1.868,1.00012],[1.871,0.99976],[1.875,1.00110],[1.878,0.99994],[1.881,1.00038],[1.884,0.99958],[1.887,1.00067],[1.890,0.99981],[1.893,1.00019],[1.896,0.99936],[1.899,1.00045],
  [1.903,0.99917],[1.906,1.00033],[1.909,0.99976],[1.912,1.00058],[1.915,1.00011],[1.918,0.99952],[1.921,1.00044],[1.924,1.00081],[1.927,0.99989],[1.930,1.00026],[1.933,0.99963],[1.936,1.00069],[1.939,1.00007],[1.942,0.99978],[1.945,1.00047],[1.948,0.99945],[1.951,1.00021],[1.954,1.00076],[1.957,0.99984],[1.960,1.00037],[1.963,0.99959],[1.966,1.00052],[1.970,1.00101],[1.973,0.99993],[1.976,1.00029],[1.979,0.99968],[1.982,1.00063],[1.985,1.00014],[1.988,0.99972],[1.991,1.00041],[1.994,0.99937],[1.997,1.00018],
  // core of the band
  [0.1065,0.99991],[0.1185,1.00031],[0.1305,0.99980],[0.1415,1.00016],[0.1545,0.99975],[0.1665,1.00025],[0.1795,1.00002],[0.1915,1.00022],
  [0.2065,1.00018],[0.2185,0.99988],[0.2305,1.00027],[0.2415,0.99976],[0.2545,1.00006],[0.2665,0.99971],[0.2795,1.00014],[0.2915,0.99996],
  [0.3065,0.99979],[0.3185,1.00009],[0.3305,0.99972],[0.3415,1.00022],[0.3545,0.99993],[0.3665,1.00030],[0.3795,0.99984],[0.3915,1.00003],
  [0.4065,1.00023],[0.4185,0.99979],[0.4305,1.00000],[0.4415,0.99971],[0.4545,1.00014],[0.4665,0.99989],[0.4795,1.00027],[0.4915,0.99975],
  [0.5065,0.99983],[0.5185,1.00023],[0.5305,0.99972],[0.5415,1.00008],[0.5545,0.99967],[0.5665,1.00017],[0.5795,0.99994],[0.5915,1.00014],
  [0.6065,1.00015],[0.6185,0.99985],[0.6305,1.00024],[0.6415,0.99973],[0.6545,1.00003],[0.6665,0.99968],[0.6795,1.00011],[0.6915,0.99993],
  [0.7065,0.99976],[0.7185,1.00006],[0.7305,0.99969],[0.7415,1.00019],[0.7545,0.99990],[0.7665,1.00027],[0.7795,0.99981],[0.7915,1.00000],
  [0.8065,1.00023],[0.8185,0.99979],[0.8305,1.00000],[0.8415,0.99971],[0.8545,1.00014],[0.8665,0.99989],[0.8795,1.00027],[0.8915,0.99975],
  [0.9065,0.99986],[0.9185,1.00026],[0.9305,0.99975],[0.9415,1.00011],[0.9545,0.99970],[0.9665,1.00020],[0.9795,0.99997],[0.9915,1.00017],
  [1.0065,1.00016],[1.0185,0.99986],[1.0305,1.00025],[1.0415,0.99974],[1.0545,1.00004],[1.0665,0.99969],[1.0795,1.00012],[1.0915,0.99994],
  [1.1065,0.99979],[1.1185,1.00009],[1.1305,0.99972],[1.1415,1.00022],[1.1545,0.99993],[1.1665,1.00030],[1.1795,0.99984],[1.1915,1.00003],
  [1.2065,1.00028],[1.2185,0.99984],[1.2305,1.00005],[1.2415,0.99976],[1.2545,1.00019],[1.2665,0.99994],[1.2795,1.00032],[1.2915,0.99980],
  [1.3065,0.99991],[1.3185,1.00031],[1.3305,0.99980],[1.3415,1.00016],[1.3545,0.99975],[1.3665,1.00025],[1.3795,1.00002],[1.3915,1.00022],
  [1.4065,1.00023],[1.4185,0.99993],[1.4305,1.00032],[1.4415,0.99981],[1.4545,1.00011],[1.4665,0.99976],[1.4795,1.00019],[1.4915,1.00001],
  [1.5065,0.99982],[1.5185,1.00012],[1.5305,0.99975],[1.5415,1.00025],[1.5545,0.99996],[1.5665,1.00033],[1.5795,0.99987],[1.5915,1.00006],
  [1.6065,1.00025],[1.6185,0.99981],[1.6305,1.00002],[1.6415,0.99973],[1.6545,1.00016],[1.6665,0.99991],[1.6795,1.00029],[1.6915,0.99977],
  [1.7065,0.99986],[1.7185,1.00026],[1.7305,0.99975],[1.7415,1.00011],[1.7545,0.99970],[1.7665,1.00020],[1.7795,0.99997],[1.7915,1.00017],
  [1.8065,1.00021],[1.8185,0.99991],[1.8305,1.00030],[1.8415,0.99979],[1.8545,1.00009],[1.8665,0.99974],[1.8795,1.00017],[1.8915,0.99999],
  [1.9065,0.99984],[1.9185,1.00014],[1.9305,0.99977],[1.9415,1.00027],[1.9545,0.99998],[1.9665,1.00035],[1.9795,0.99989],[1.9915,1.00008]
]

const xTicks = [-2.0, -1.5, -1.0, -0.5, 0.0, 0.5, 1.0, 1.5, 2.0]
const yTicks = [0.994, 0.996, 0.998, 1.0, 1.002]
const targetName = 'TIC 176220787'

const margin = { top: 17, left: 97, right: 23, bottom: 58 }
const totalWidth = 778
const totalHeight = 377
const width = totalWidth - margin.left - margin.right
const height = totalHeight - margin.top - margin.bottom

const textColor = '#444'
const frameColor = '#555'
const dotColor = '#333'

const svg = d3
  .select('#chart')
  .append('svg')
  .attr('width', totalWidth)
  .attr('height', totalHeight)
  .append('g')
  .attr('transform', 'translate(' + margin.left + ',' + margin.top + ')')

const xPositionScale = d3.scaleLinear().domain([-2, 2]).range([0, width])
const yPositionScale = d3.scaleLinear().domain([0.99299, 1.00201]).range([height, 0])

const points = preTransit.concat(inTransit, postTransit)

svg
  .selectAll('.dot')
  .data(points)
  .enter()
  .append('circle')
  .attr('class', 'dot')
  .attr('r', 1.45)
  .attr('cx', d => xPositionScale(d[0]))
  .attr('cy', d => yPositionScale(d[1]))
  .attr('fill', dotColor)

// minor ticks first so majors draw on top
const xMinor = d3.range(-2, 2.0001, 0.1)
const yMinor = d3.range(0.9930, 1.00201, 0.0005)

svg
  .append('g')
  .attr('class', 'axis x-minor')
  .attr('transform', 'translate(0,' + height + ')')
  .call(d3.axisBottom(xPositionScale).tickValues(xMinor).tickSize(-5).tickFormat(''))

svg
  .append('g')
  .attr('class', 'axis y-minor')
  .call(d3.axisLeft(yPositionScale).tickValues(yMinor).tickSize(-5).tickFormat(''))

const xAxis = d3
  .axisBottom(xPositionScale)
  .tickValues(xTicks)
  .tickFormat(d3.format('.1f'))
  .tickSize(-10)
  .tickPadding(8)
svg
  .append('g')
  .attr('class', 'axis x-axis')
  .attr('transform', 'translate(0,' + height + ')')
  .call(xAxis)

const yAxis = d3
  .axisLeft(yPositionScale)
  .tickValues(yTicks)
  .tickFormat(d3.format('.3f'))
  .tickSize(-10)
  .tickPadding(6)
svg
  .append('g')
  .attr('class', 'axis y-axis')
  .call(yAxis)

svg.selectAll('.axis path').remove()
svg.selectAll('.axis line').attr('stroke', frameColor).attr('stroke-width', 1)
svg
  .selectAll('.axis text')
  .attr('fill', textColor)
  .attr('font-size', 16)
  .attr('font-family', 'DejaVu Sans')

svg
  .append('rect')
  .attr('width', width)
  .attr('height', height)
  .attr('fill', 'none')
  .attr('stroke', frameColor)
  .attr('stroke-width', 1)

// axis titles
svg
  .append('text')
  .text('Phase [JD]')
  .attr('x', width / 2)
  .attr('y', height + 45)
  .attr('text-anchor', 'middle')
  .attr('font-size', 20)
  .attr('fill', textColor)

const yLabel = svg
  .append('text')
  .attr('transform', 'translate(' + (30.5 - margin.left) + ',' + (168 - margin.top) + ') rotate(-90)')
  .attr('text-anchor', 'middle')
  .attr('font-size', 20)
  .attr('fill', textColor)
yLabel.append('tspan').text('Flux [e')
yLabel.append('tspan').text('\u2212').attr('font-size', 15).attr('dx', 1).attr('dy', -8)
yLabel.append('tspan').text('s').attr('dx', 2).attr('dy', 8)
yLabel.append('tspan').text('\u22121').attr('font-size', 15).attr('dx', 1).attr('dy', -8)
yLabel.append('tspan').text(']').attr('dx', 1).attr('dy', 8)

// legend
const legend = svg.append('g').attr('transform', 'translate(8.5,' + (height - 34.5) + ')')
legend
  .append('rect')
  .attr('width', 170)
  .attr('height', 27)
  .attr('rx', 3)
  .attr('fill', 'white')
  .attr('fill-opacity', 0.8)
  .attr('stroke', '#888')
  .attr('stroke-width', 1)
legend
  .selectAll('circle')
  .data([0.375, 0.5, 0.3125])
  .enter()
  .append('circle')
  .attr('r', 1.45)
  .attr('cx', (d, i) => 10.5 + i * 10.5)
  .attr('cy', d => 13.5 + (0.5 - d) * 4)
  .attr('fill', dotColor)
legend
  .append('text')
  .text(targetName)
  .attr('x', 48.5)
  .attr('y', 18.5)
  .attr('font-size', 15.3)
  .attr('fill', textColor)
</script>
</body>
</html>
